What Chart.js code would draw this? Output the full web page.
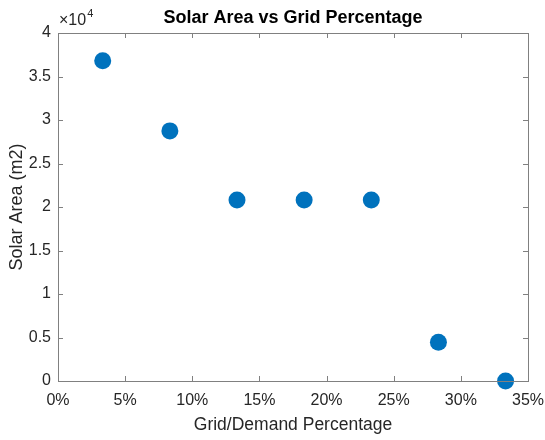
<!DOCTYPE html>
<html><head><meta charset="utf-8">
<script src="https://cdn.jsdelivr.net/npm/chart.js@4/dist/chart.umd.min.js"></script>
<style>html,body{margin:0;padding:0;background:#fff}#wrap{width:545px;height:440px}</style>
</head><body><div id="wrap"><canvas id="c" width="545" height="440"></canvas></div>
<script>
const gridPct = [0.0333, 0.0833, 0.1333, 0.1833, 0.2333, 0.2833, 0.3333];
const solarArea = [36800, 28750, 20800, 20800, 20800, 4450, 0];
const xTicks = [0, 0.05, 0.10, 0.15, 0.20, 0.25, 0.30, 0.35];
const yTicks = [0, 5000, 10000, 15000, 20000, 25000, 30000, 35000, 40000];
const titleText = 'Solar Area vs Grid Percentage';
const xTitle = 'Grid/Demand Percentage';
const yTitle = 'Solar Area (m2)';

const FONT = "'Liberation Sans', Arial, sans-serif";
const AXC = '#808080';
const TXT = '#262626';

const boxPlugin = {
  id: 'boxPlugin',
  afterDatasetsDraw(chart) {
    const ctx = chart.ctx, a = chart.chartArea;
    const xs = chart.scales.x, ys = chart.scales.y;
    ctx.save();
    ctx.strokeStyle = AXC; ctx.lineWidth = 1;
    ctx.strokeRect(Math.round(a.left)+0.5, Math.round(a.top)+0.5, Math.round(a.right-a.left), Math.round(a.bottom-a.top));
    const tl = 5;
    ctx.beginPath();
    xTicks.forEach(v => {
      const px = Math.round(xs.getPixelForValue(v)) + 0.5;
      ctx.moveTo(px, a.bottom); ctx.lineTo(px, a.bottom - tl);
      ctx.moveTo(px, a.top); ctx.lineTo(px, a.top + tl);
    });
    yTicks.forEach(v => {
      const py = Math.round(ys.getPixelForValue(v)) + 0.5;
      ctx.moveTo(a.left, py); ctx.lineTo(a.left + tl, py);
      ctx.moveTo(a.right, py); ctx.lineTo(a.right - tl, py);
    });
    ctx.stroke();
    ctx.restore();
  },
  afterDraw(chart) {
    const ctx = chart.ctx, a = chart.chartArea;
    ctx.save();
    ctx.fillStyle = '#000';
    ctx.font = 'bold 18px ' + FONT;
    ctx.textAlign = 'center'; ctx.textBaseline = 'middle';
    ctx.fillText(titleText, (a.left + a.right) / 2, 18);
    ctx.fillStyle = TXT;
    ctx.font = '16px ' + FONT;
    ctx.textAlign = 'left'; ctx.textBaseline = 'alphabetic';
    ctx.fillText('\u00d710', a.left + 1, 25);
    const w = ctx.measureText('\u00d710').width;
    ctx.font = '11px ' + FONT;
    ctx.fillText('4', a.left + 1 + w + 1, 17);
    ctx.restore();
  }
};

new Chart(document.getElementById('c'), {
  type: 'scatter',
  data: {
    datasets: [{
      data: gridPct.map((x, i) => ({x: x, y: solarArea[i]})),
      backgroundColor: '#0072BD',
      borderColor: '#0072BD',
      pointRadius: 8.5,
      pointHoverRadius: 8.5,
      borderWidth: 0,
      clip: false
    }]
  },
  options: {
    responsive: false,
    animation: false,
    devicePixelRatio: 1,
    layout: { padding: { left: 6, top: 33, right: 17, bottom: 0 } },
    plugins: { legend: { display: false }, tooltip: { enabled: false }, title: { display: false } },
    scales: {
      x: {
        type: 'linear', min: 0, max: 0.35,
        afterBuildTicks: s => { s.ticks = xTicks.map(v => ({value: v})); },
        afterFit: s => { s.height = 59; s.paddingLeft = 0; s.paddingRight = 0; },
        grid: { display: false, drawTicks: false },
        border: { display: false },
        ticks: {
          padding: 10,
          color: TXT, font: { family: FONT, size: 16 },
          callback: v => Math.round(v * 100) + '%', maxRotation: 0, autoSkip: false
        },
        title: { display: true, text: xTitle, color: TXT, font: { family: FONT, size: 17.5 }, padding: { top: 2, bottom: 4 } }
      },
      y: {
        type: 'linear', min: 0, max: 40000,
        afterBuildTicks: s => { s.ticks = yTicks.map(v => ({value: v})); },
        afterFit: s => { s.width = 52; s.paddingTop = 0; s.paddingBottom = 0; },
        grid: { display: false, drawTicks: false },
        border: { display: false },
        ticks: {
          padding: 7,
          color: TXT, font: { family: FONT, size: 16 },
          callback: v => String(v / 10000), autoSkip: false
        },
        title: { display: true, text: yTitle, color: TXT, font: { family: FONT, size: 18 }, padding: { top: 0, bottom: 0 } }
      }
    }
  },
  plugins: [boxPlugin]
});
</script>
</body></html>
